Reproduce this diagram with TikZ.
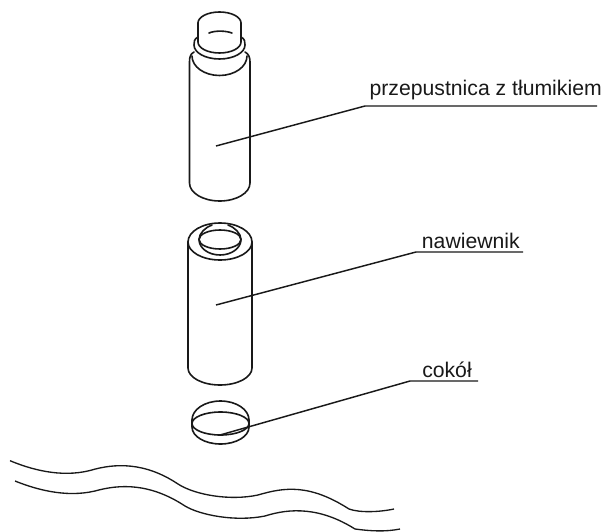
\documentclass[tikz,border=0pt]{standalone}
\usepackage{fontspec}
\setmainfont{Liberation Sans}
\usetikzlibrary{positioning}

\begin{document}
\begin{tikzpicture}[
    x=0.75pt, y=0.75pt,
    part/.style={line width=1.2pt, line cap=round, line join=round, draw=black!90},
    leader/.style={line width=1.1pt, draw=black!90},
    floorline/.style={line width=1pt, draw=black!90},
    tag/.style={font=\fontsize{15.9}{19}\selectfont, text=black!90, inner sep=0pt, anchor=base east}
]
\useasboundingbox (0,-531) rectangle (605,0);

\coordinate (upper_tip) at (216,-146);
\coordinate (upper_bend) at (365,-106);
\coordinate (upper_end) at (597,-106);
\coordinate (middle_tip) at (216,-305);
\coordinate (middle_bend) at (416,-252);
\coordinate (middle_end) at (523,-252);
\coordinate (lower_tip) at (220,-435);
\coordinate (lower_bend) at (410,-381);
\coordinate (lower_end) at (478,-381);

% damper with silencer
\draw[part] (198,-23) arc[start angle=180, end angle=0, x radius=21.5, y radius=11];
\draw[part] (209,-33) .. controls (215,-30.5) and (225,-30.5) .. (232,-33);
\draw[part] (198,-23) -- (198,-42) arc[start angle=180, end angle=360, x radius=21.5, y radius=11] -- (241,-23);
\draw[part] (198,-37) .. controls (194,-39) and (194,-42) .. (194,-45) arc[start angle=180, end angle=360, x radius=25.5, y radius=14] .. controls (245,-42) and (245,-39) .. (241,-37);
\draw[part] (194,-52) .. controls (190,-54) and (189.5,-58) .. (189.5,-62) -- (189.5,-183) arc[start angle=180, end angle=360, x radius=30.25, y radius=18] -- (250,-62) .. controls (250,-58) and (249,-54) .. (245,-52);
\draw[part] (192,-56) arc[start angle=180, end angle=360, x radius=27.5, y radius=19.5];

% diffuser
\draw[part] (188,-242) arc[start angle=180, end angle=0, x radius=32, y radius=19];
\draw[part] (188,-242) -- (188,-368) arc[start angle=180, end angle=360, x radius=32, y radius=17] -- (252,-242);
\draw[part] (188,-242) arc[start angle=180, end angle=360, x radius=32, y radius=18];
\draw[part] (220,-239.5) ellipse [x radius=21, y radius=9.5];
\draw[part] (199,-239.5) arc[start angle=180, end angle=360, x radius=21, y radius=15.5];
\draw[part] (199,-239.5) .. controls (199,-233) and (206,-227) .. (212,-225);
\draw[part] (241,-239.5) .. controls (241,-233) and (234,-227) .. (228,-225);

% plinth
\draw[part] (192,-420) arc[start angle=180, end angle=0, x radius=28.5, y radius=19];
\draw[part] (220.5,-423.5) ellipse [x radius=28.5, y radius=11.5];
\draw[part] (192,-420) -- (192,-427) arc[start angle=180, end angle=360, x radius=28.5, y radius=17] -- (249,-420);

% leaders
\draw[leader] (upper_tip) -- (upper_bend) -- (upper_end);
\draw[leader] (middle_tip) -- (middle_bend) -- (middle_end);
\draw[leader] (lower_tip) -- (lower_bend) -- (lower_end);

\node[tag] (upper_label) at (602,-96) {przepustnica z tłumikiem};
\node[tag] (middle_label) at (520,-248) {nawiewnik};
\node[tag] (lower_label) at (472,-377) {cokół};

% floor break lines
\draw[floorline] (10,-460.7) .. controls (30,-469) and (60,-478) .. (90,-470.5) .. controls (115,-463) and (145,-462) .. (178,-484) .. controls (195,-495) and (230,-501) .. (258,-495) .. controls (285,-487) and (310,-484) .. (349,-509) .. controls (360,-513) and (380,-512) .. (394,-509);
\draw[floorline] (15,-481) .. controls (35,-489) and (65,-498) .. (95,-491) .. controls (120,-484) and (150,-483) .. (185,-506) .. controls (200,-515) and (235,-522) .. (265,-516) .. controls (290,-508) and (320,-507) .. (355,-529) .. controls (370,-531) and (385,-532) .. (400,-529);

\end{tikzpicture}
\end{document}
